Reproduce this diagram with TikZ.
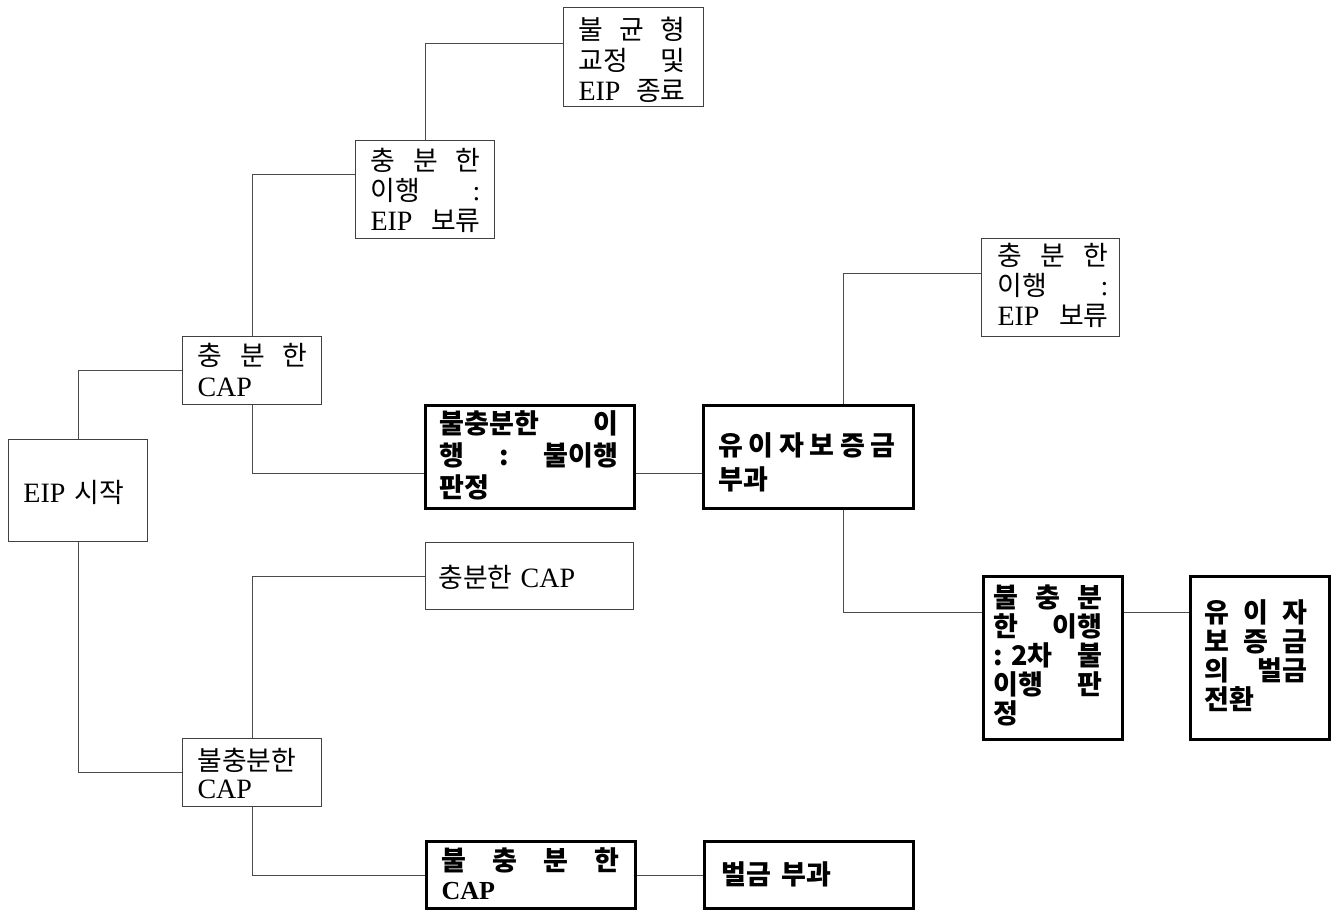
\documentclass[tikz,border=0pt]{standalone}
\usepackage{fontspec}
\setmainfont{Liberation Serif}
\newfontfamily\kr[Scale=0.96]{Noto Sans CJK KR}
\newfontfamily\krb[Scale=1.04]{Noto Sans CJK KR}
\newdimen\padL
\newdimen\padR
\newcommand\K[1]{{\kr #1}}
\newcommand\RL[1]{\setbox0\hbox to\hsize{\hskip\padL #1\hskip\padR}\ht0=0pt \dp0=0pt \box0 }
% #1 width, #2 height, #3 first baseline from top, #4 left pad, #5 right pad, #6 baselineskip, #7 lines
\newcommand\boxtext[7]{\vbox to #2pt{\hsize=#1pt \padL=#4pt \padR=#5pt \baselineskip=#6pt \lineskiplimit=-100pt
  \hrule height0pt width\hsize\vskip #3pt\relax #7\vss}}
\begin{document}
\begin{tikzpicture}[x=1pt,y=-1pt,
  thin/.style={draw=black!75, line width=1pt, inner sep=0pt, anchor=north west, font=\fontsize{28}{30}\selectfont},
  thick/.style={draw=black, line width=3pt, inner sep=0pt, anchor=north west, font=\fontsize{26}{30}\selectfont\bfseries\let\kr\krb},
  conn/.style={draw=black!70, line width=1pt}]
\useasboundingbox (0,0) rectangle (1333,911);

\node[thin] (B1) at (563,7) {\boxtext{140}{99}{32}{15}{18}{30.5}{%
  \RL{\K{불}\hfill\K{균}\hfill\K{형}}%
  \RL{\K{교정}\hfill\K{및}}%
  \RL{EIP\hfill\K{종료}}}};
\node[thin] (B2) at (355,140) {\boxtext{139}{98}{30}{15}{14}{30}{%
  \RL{\K{충}\hfill\K{분}\hfill\K{한}}%
  \RL{\K{이행}\hfill :}%
  \RL{EIP\hfill\K{보류}}}};
\node[thin] (B3) at (182,336) {\boxtext{139}{68}{29}{15}{14}{31}{%
  \RL{\K{충}\hfill\K{분}\hfill\K{한}}%
  \RL{CAP\hfill}}};
\node[thin] (B4) at (8,439) {\boxtext{139}{102}{63}{15}{8}{30}{%
  \RL{EIP\hskip 9pt\K{시작}\hfill}}};
\node[thick] (B5) at (424,404) {\boxtext{209}{103}{28}{14}{16}{32}{%
  \RL{\K{불충분한}\hfill\K{이}}%
  \RL{\K{행}\hfill\K{:}\hfill\K{불이행}}%
  \RL{\K{판정}\hfill}}};
\node[thick] (B6) at (702,404) {\boxtext{210}{103}{49.5}{15}{18}{34}{%
  \RL{\K{유}\hfill\K{이}\hfill\K{자}\hfill\K{보}\hfill\K{증}\hfill\K{금}}%
  \RL{\K{부과}\hfill}}};
\node[thin] (B7) at (981,238) {\boxtext{138}{98}{27}{16}{11}{30}{%
  \RL{\K{충}\hfill\K{분}\hfill\K{한}}%
  \RL{\K{이행}\hfill :}%
  \RL{EIP\hfill\K{보류}}}};
\node[thick] (B8) at (982,575) {\boxtext{139}{163}{30.5}{10}{20}{29}{%
  \RL{\K{불}\hfill\K{충}\hfill\K{분}}%
  \RL{\K{한}\hfill\K{이행}}%
  \RL{\K{: 2차}\hfill\K{불}}%
  \RL{\K{이행}\hfill\K{판}}%
  \RL{\K{정}\hfill}}};
\node[thick] (B9) at (1189,575) {\boxtext{139}{163}{45.5}{14}{22}{29}{%
  \RL{\K{유}\hfill\K{이}\hfill\K{자}}%
  \RL{\K{보}\hfill\K{증}\hfill\K{금}}%
  \RL{\K{의}\hfill\K{벌금}}%
  \RL{\K{전환}\hfill}}};
\node[thin] (B10) at (425,542) {\boxtext{208}{67}{45}{13}{10}{30}{%
  \RL{\K{충분한}\hskip 8pt CAP\hfill}}};
\node[thin] (B11) at (182,738) {\boxtext{139}{68}{32}{15}{8}{28}{%
  \RL{\K{불충분한}\hfill}%
  \RL{CAP\hfill}}};
\node[thick] (B12) at (425,840) {\boxtext{209}{67}{28.5}{15}{16}{29}{%
  \RL{\K{불}\hfill\K{충}\hfill\K{분}\hfill\K{한}}%
  \RL{CAP\hfill}}};
\node[thick] (B13) at (703,840) {\boxtext{209}{67}{42.5}{17}{10}{30}{%
  \RL{\K{벌금}\hskip 10pt\K{부과}\hfill}}};

\draw[conn] (B4.north) |- (B3.west);
\draw[conn] (B4.south) |- (B11.west);
\draw[conn] (B3.north) |- ([yshift=15pt]B2.west);
\draw[conn] (B3.south) |- ([yshift=-16pt]B5.west);
\draw[conn] ([yshift=-16pt]B5.east) -- ([yshift=-16pt]B6.west);
\draw[conn] (B2.north) |- ([yshift=14pt]B1.west);
\draw[conn] ([xshift=35pt]B6.north) |- ([yshift=14pt]B7.west);
\draw[conn] ([xshift=35pt]B6.south) |- ([yshift=46pt]B8.west);
\draw[conn] ([yshift=46pt]B8.east) -- ([yshift=46pt]B9.west);
\draw[conn] (B11.north) |- (B10.west);
\draw[conn] (B11.south) |- (B12.west);
\draw[conn] (B12.east) -- (B13.west);
\end{tikzpicture}
\end{document}
